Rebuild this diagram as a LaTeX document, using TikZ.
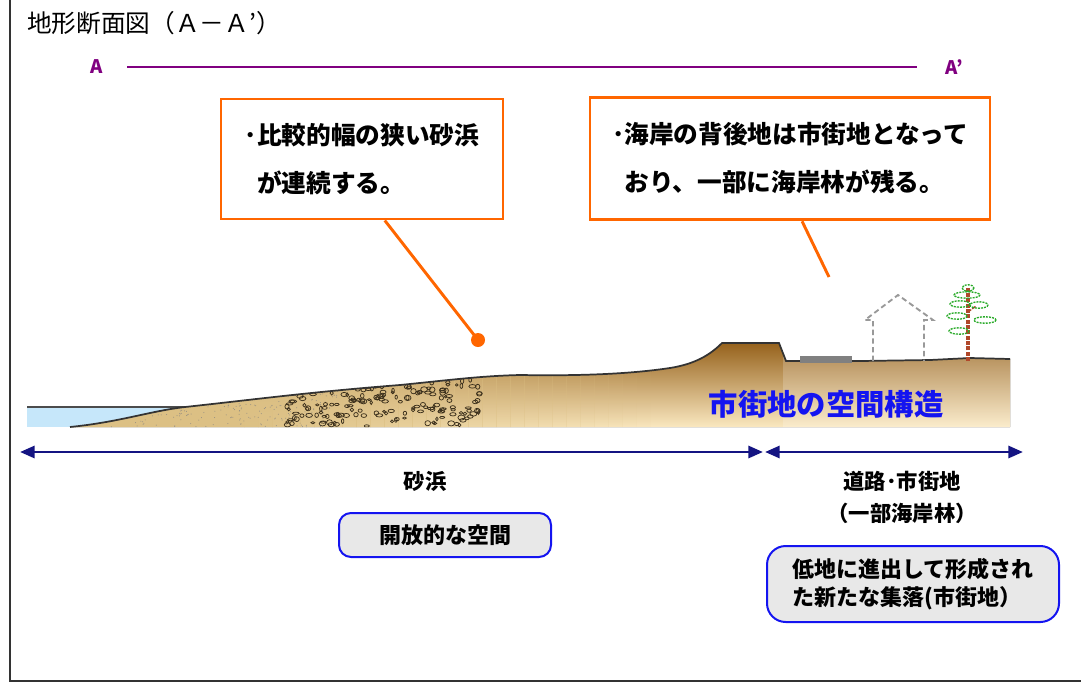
\documentclass[tikz,border=0pt]{standalone}
\usepackage{fontspec}
\setmainfont{Noto Sans CJK JP}
\usetikzlibrary{arrows.meta, calc}

\definecolor{noteorange}{RGB}{255,102,0}
\definecolor{secpurple}{RGB}{128,0,128}
\definecolor{spannavy}{RGB}{20,20,130}
\definecolor{pillblue}{RGB}{20,20,240}
\definecolor{pillgray}{RGB}{232,232,232}
\definecolor{seablue}{RGB}{198,231,250}
\definecolor{soiltop}{RGB}{150,98,28}
\definecolor{soilbottom}{RGB}{250,232,192}
\definecolor{sandtan}{RGB}{220,192,132}
\definecolor{pebbleink}{RGB}{60,48,28}
\definecolor{trunkred}{RGB}{176,72,42}
\definecolor{pinegreen}{RGB}{40,170,40}

\tikzset{
  frame/.style={draw=black!80, line width=1.5pt},
  title/.style={font=\fontsize{18.5}{22}\selectfont, inner sep=0pt},
  secmark/.style={text=secpurple, font=\fontsize{14}{16}\selectfont\bfseries, inner sep=2pt},
  secline/.style={draw=secpurple, line width=1.2pt},
  note/.style={draw=noteorange, fill=white, line width=2.2pt, align=left,
    font=\fontsize{18.5}{36}\selectfont\bfseries},
  pointer/.style={draw=noteorange, line width=2.2pt},
  dot/.style={circle, fill=noteorange, minimum size=10.5pt, inner sep=0pt},
  span/.style={draw=spannavy, line width=2.2pt,
    {Triangle[length=11pt,width=9pt]}-{Triangle[length=11pt,width=9pt]}},
  zonelabel/.style={font=\fontsize{16}{24}\selectfont\bfseries},
  pill/.style={draw=pillblue, fill=pillgray, line width=1.5pt,
    font=\fontsize{16.5}{21}\selectfont\bfseries},
  structlbl/.style={text=pillblue, font=\fontsize{22}{26}\selectfont\bfseries},
  pebble/.style={draw=pebbleink, line width=0.55pt},
  house/.style={draw=black!40, line width=1.4pt, dash pattern=on 4pt off 2.5pt},
  trunk/.style={draw=trunkred, line width=2.4pt, dash pattern=on 3pt off 1pt},
  leaves/.style={draw=pinegreen, line width=1pt, dash pattern=on 1.5pt off 0.8pt}
}

% cross-section profile, west to east
\def\groundtop{(70,427) .. controls (120,422) and (150,411) .. (185,407)
  .. controls (250,400) and (310,392) .. (400,385)
  .. controls (450,380) and (480,376) .. (520,375)
  .. controls (580,376) and (630,374) .. (670,368)
  .. controls (695,364) and (710,355) .. (722,343)
  -- (779,343) -- (786,361) -- (860,361) -- (930,360) -- (970,358) -- (1010,359)}

\begin{document}
\begin{tikzpicture}[x=0.75pt, y=-0.75pt]
\useasboundingbox (0,0) rectangle (1081,686);
\draw[frame] (10,0) -- (10,681) -- (1081,681);

\node[title, anchor=west] (title) at (27,23) {地形断面図（Ａ－Ａ’）};

\node[secmark] (secA) at (97,67) {A};
\node[secmark] (secB) at (954,67) {A’};
\draw[secline, shorten <=16pt, shorten >=19pt] (secA) -- (secB);

% sea
\fill[seablue] (27,407) rectangle (200,427);
\draw[black!70, line width=1.4pt] (27,407) -- (190,407);

% ground
\fill[top color=soiltop, bottom color=soilbottom] \groundtop -- (1010,427) -- cycle;
\begin{scope}
  \clip \groundtop -- (1010,427) -- cycle;
  % sand fading out towards the dune
  \fill[sandtan] (27,340) rectangle (230,430);
  \foreach \k in {0,...,29}
    \fill[sandtan, opacity={1-\k/30}] ({230+\k*14},340) rectangle ({244.5+\k*14},430);
  \fill[white, opacity=0.2] (783,340) rectangle (1012,430);
  \pgfmathsetseed{11}
  \foreach \i in {1,...,320}{
    \pgfmathsetmacro{\px}{110+230*rnd}
    \pgfmathsetmacro{\py}{385+42*rnd}
    \fill[pebbleink!55] (\px,\py) circle [radius=0.5];
  }
  \foreach \i in {1,...,190}{
    \pgfmathsetmacro{\px}{285+195*rnd}
    \pgfmathsetmacro{\py}{380+46*rnd}
    \pgfmathsetmacro{\rx}{1.2+2.4*rnd}
    \pgfmathsetmacro{\ry}{1.0+1.7*rnd}
    \draw[pebble] (\px,\py) ellipse [x radius=\rx, y radius=\ry];
  }
\end{scope}
\draw[black!80, line width=1.3pt] \groundtop;

% road, house and pine
\fill[black!50] (800,356) rectangle (852,363);
\draw[house] (873,361) -- (873,320) -- (865,320) -- (898,295) -- (933,320) -- (924,320) -- (924,361);
\draw[trunk] (968,361) -- (968,287);
\draw[trunk, line width=1pt] (968,312) -- (976,306);
\foreach \cx/\cy/\rx in {968/288/6, 967/295/13, 960/304/10, 979/305/9, 957/316/10, 985/320/11, 959/331/10}
  \draw[leaves] (\cx,\cy) ellipse [x radius=\rx, y radius=3.2];

\node[structlbl] (structure) at (826,404) {市街地の空間構造};

% callouts
\node[note, minimum width=211.5pt, minimum height=90pt] (noteA) at (362,159)
  {･比較的幅の狭い砂浜\\\phantom{･}が連続する。};
\node[note, minimum width=300pt, minimum height=92pt] (noteB) at (790,158.5)
  {･海岸の背後地は市街地となって\\\phantom{･}おり、一部に海岸林が残る。};
\node[dot] (dotA) at (478,340) {};
\coordinate (tipB) at (829,277);
\draw[pointer] ($(noteA.south west)!0.58!(noteA.south east)$) -- (dotA.center);
\draw[pointer] ($(noteB.south west)!0.53!(noteB.south east)$) -- (tipB);

% zones
\coordinate (beachW) at (20,452);
\coordinate (beachE) at (763,452);
\coordinate (townW) at (765,452);
\coordinate (townE) at (1023,452);
\draw[span] (beachW) -- (beachE);
\draw[span] (townW) -- (townE);

\node[zonelabel] (beachlbl) at (425,481) {砂浜};
\node[zonelabel, align=center] (townlbl) at (902,497) {道路･市街地\\（一部海岸林）};

\node[pill, minimum width=159pt, minimum height=33pt, rounded corners=9pt] (openbox) at (445,535) {開放的な空間};
\node[pill, minimum width=219pt, minimum height=57pt, rounded corners=14pt, align=left] (townbox) at (913,584)
  {低地に進出して形成され\\た新たな集落(市街地）};
\end{tikzpicture}
\end{document}
